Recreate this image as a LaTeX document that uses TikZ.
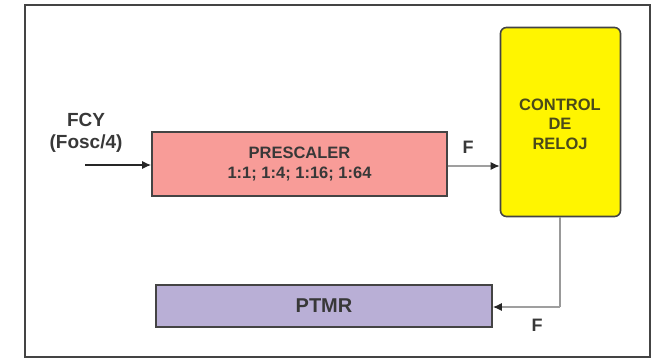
\documentclass[tikz,border=0pt]{standalone}
\usepackage{fontspec}
\setmainfont{Liberation Sans}
\usetikzlibrary{arrows.meta}
\definecolor{txt}{HTML}{383838}
\definecolor{pres}{HTML}{F89C98}
\definecolor{ctrl}{HTML}{FFF500}
\definecolor{ptmr}{HTML}{B9AFD6}
\definecolor{frame}{HTML}{444444}
\definecolor{ctxt}{HTML}{4A4A1A}
\tikzset{
  blk/.style={draw=frame, line width=1.6pt, inner sep=0pt, text=txt, font=\bfseries\fontsize{16.5}{20}\selectfont, align=center},
  lab/.style={text=txt, font=\bfseries\fontsize{19}{22}\selectfont, inner sep=0pt, align=center},
  flab/.style={text=txt, font=\bfseries\fontsize{18}{18}\selectfont, inner sep=0pt},
  conn/.style={draw=#1, line width=1.3pt, -{Latex[length=9pt,width=8pt,color=black!85]}},
  wire/.style={draw=gray!80, line width=1.3pt}
}
\begin{document}
\begin{tikzpicture}[x=1pt,y=-1pt]
\useasboundingbox (0,0) rectangle (653,360);
\draw[frame, line width=2pt] (25,5) rectangle (650,357);
\node[blk, fill=pres, minimum width=295pt, minimum height=64pt] (pre) at (299.5,164) {PRESCALER\\1:1; 1:4; 1:16; 1:64};
\node[blk, fill=ctrl, rounded corners=6pt, minimum width=120pt, minimum height=189pt] (clk) at (560.5,122) {};
\node[text=ctxt, font=\bfseries\fontsize{16.5}{19.5}\selectfont, align=center, inner sep=0pt] (clkt) at (560,124) {CONTROL\\DE\\RELOJ};
\node[blk, fill=ptmr, minimum width=336pt, minimum height=42pt, font=\bfseries\fontsize{20}{20}\selectfont] (ptm) at (324,306) {PTMR};
\node[lab] (fcy) at (86,133) {FCY\\(Fosc/4)};
\coordinate (in) at (85,165);
\draw[conn=black!85] (in) -- (pre.west |- in);
\node[flab] (f1) at (468,147) {F};
\draw[conn=gray!75] (pre.east |- 0,166) -- (clk.west |- 0,166);
\coordinate (c1) at (560,307);
\draw[wire] (clk.south -| c1) -- (c1);
\draw[conn=gray!75] (c1) -- (ptm.east |- c1);
\node[flab] (f2) at (537,325) {F};
\end{tikzpicture}
\end{document}
